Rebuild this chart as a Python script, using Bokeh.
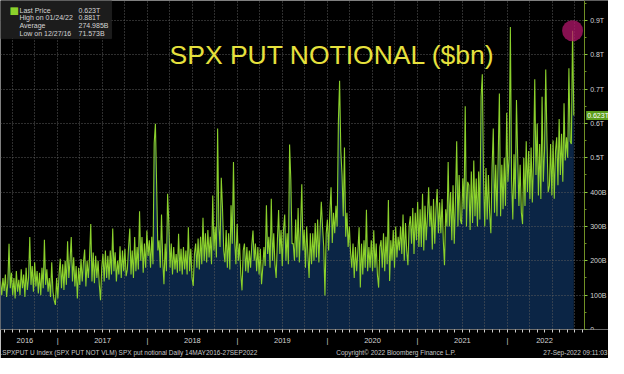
import numpy as np
import pandas as pd
from bokeh.plotting import figure
from bokeh.models import (DatetimeAxis, FixedTicker, CustomJSTickFormatter,
                          Label, BoxAnnotation, Range1d, ColumnDataSource)
from bokeh.embed import file_html
from bokeh.resources import INLINE

# ---------------- data (SPX put notional, $bn) ----------------
start_date = "2016-05-14"
end_date = "2022-09-27"

seg_2016 = [140, 100, 150, 112, 160, 95, 135, 250,
            120, 165, 100, 150, 90, 170, 110, 145,
            100, 175, 120, 160, 95, 180, 115, 150,
            269, 130, 185, 110, 196, 125, 170, 105,
            165, 100, 180, 120, 261, 130, 175, 110,
            150, 95, 196, 110, 85, 71.573, 150, 90]
seg_2017 = [160, 206, 120, 190, 115, 200, 130, 257,
            150, 200, 269, 140, 210, 125, 185, 90,
            180, 130, 205, 140, 195, 233, 125, 200,
            150, 210, 307, 140, 224, 135, 215, 150,
            200, 130, 85, 180, 220, 140, 230, 150,
            215, 145, 230, 160, 294, 170, 225, 140,
            200, 160, 242, 150, 230, 170, 235, 155,
            175, 240, 294, 160, 230, 150, 269, 170,
            240, 175, 344, 200, 269, 165, 250, 180]
seg_2018 = [288, 214, 260, 180, 270, 190, 543, 599,
            420, 230, 260, 180, 335, 200, 132, 250,
            170, 395, 307, 180, 250, 160, 240, 175,
            220, 165, 279, 170, 235, 160, 240, 175,
            230, 160, 298, 170, 235, 150, 127, 220,
            250, 180, 265, 175, 270, 190, 325, 200,
            280, 195, 290, 210, 270, 190, 390, 230,
            300, 210, 585, 300, 240, 442, 353, 230,
            196, 290, 180, 280, 175, 362, 250, 488]
seg_2019 = [260, 190, 307, 200, 250, 160, 114, 230,
            250, 170, 240, 165, 230, 180, 245, 288,
            200, 250, 170, 240, 160, 235, 132, 180,
            240, 185, 362, 220, 270, 180, 381, 200,
            280, 190, 150, 260, 348, 220, 290, 185,
            290, 335, 200, 280, 190, 539, 437, 250,
            250, 200, 320, 210, 354, 195, 300, 423,
            230, 290, 180, 300, 220, 150, 280, 190,
            280, 200, 310, 210, 320, 195, 290, 372,
            300, 240, 99, 280, 320, 230, 340, 414]
seg_2020 = [252, 340, 280, 360, 300, 604, 724, 520,
            450, 330, 530, 270, 340, 240, 300, 224,
            180, 250, 150, 240, 170, 230, 298, 122,
            250, 160, 260, 180, 349, 170, 240, 180,
            260, 170, 289, 180, 250, 160, 122, 240,
            260, 180, 280, 170, 270, 190, 377, 141,
            260, 200, 290, 180, 300, 210, 270, 230,
            300, 220, 335, 200, 310, 230, 187, 300,
            330, 250, 354, 220, 340, 260, 372, 240]
seg_2021 = [350, 240, 395, 230, 360, 260, 330, 414,
            300, 360, 233, 380, 250, 350, 409, 280,
            370, 280, 380, 260, 187, 350, 300, 488,
            300, 400, 260, 420, 250, 380, 548, 300,
            450, 320, 307, 440, 350, 650, 300, 430,
            420, 290, 460, 310, 492, 330, 440, 300,
            460, 320, 678, 743, 437, 300, 470, 320,
            450, 340, 280, 470, 585, 340, 480, 330,
            500, 687, 330, 480, 350, 500, 360, 631]
seg_2022 = [430, 500, 881, 437, 320, 510, 380, 668,
            500, 360, 480, 340, 307, 500, 360, 548,
            400, 520, 380, 530, 370, 492, 729, 450,
            600, 390, 540, 380, 678, 430, 520, 757,
            550, 400, 418, 540, 390, 550, 381, 520,
            560, 420, 613, 450, 570, 430, 659, 492,
            560, 500, 761, 548, 540, 870, 623]

high_date_label = "01/24/22"
low_date_label = "12/27/16"
average_bn = 274.985

y_ticks = [0, 100, 200, 300, 400, 500, 600, 700, 800, 900]
y_tick_labels = ["0", "100B", "200B", "300B", "400B", "0.5T", "0.6T", "0.7T", "0.8T", "0.9T"]
year_label_dates = ["2016-08-21", "2017-07-02", "2018-07-02", "2019-07-02",
                    "2020-07-02", "2021-07-02", "2022-05-31"]
year_starts = ["2017-01-01", "2018-01-01", "2019-01-01", "2020-01-01",
               "2021-01-01", "2022-01-01"]

title_text = "SPX PUT NOTIONAL ($bn)"
footer_texts = [".SPXPUT U Index (SPX PUT NOT VLM) SPX put notional  Daily 14MAY2016-27SEP2022",
                "Copyright\u00a9 2022 Bloomberg Finance L.P.",
                "27-Sep-2022 09:11:03"]

# ---------------- build ----------------
values = np.array(seg_2016 + seg_2017 + seg_2018 + seg_2019 + seg_2020 + seg_2021 + seg_2022,
                  dtype=float)
dates = pd.date_range(start_date, end_date, periods=len(values))
src = ColumnDataSource(dict(date=dates, value=values))


def ms(ts):
    return [pd.Timestamp(t).value / 1e6 for t in ts]


x_start = ms([start_date])[0]
x_axis_pos = ms(["2022-11-08"])[0]          # where the value axis sits (ref px 599)
x_end = x_start + (x_axis_pos - x_start) * 624.0 / 599.0


def at_px(px):  # horizontal layout position, in reference-chart pixels (0..624)
    return x_start + px / 624.0 * (x_end - x_start)


FONT = "Liberation Sans"
GREEN = "#8bd12c"
TXT = "#d4d4d4"

p = figure(width=608, height=358, x_axis_type="datetime", x_axis_location=None,
           y_axis_location="right", x_range=Range1d(x_start, x_end), y_range=Range1d(0, 958),
           output_backend="svg", toolbar_location=None, min_border=0,
           min_border_left=0, min_border_top=0, min_border_right=0, min_border_bottom=29,
           background_fill_color="black", border_fill_color="black", outline_line_color=None)

# grids
p.ygrid.ticker = FixedTicker(ticks=y_ticks[1:])
p.ygrid.grid_line_color = "#5c5c5c"
p.ygrid.grid_line_dash = "1 2"
quarters = pd.date_range("2016-07-01", "2022-10-01", freq="QS")
p.xgrid.ticker = FixedTicker(ticks=ms(quarters))
p.xgrid.grid_line_color = "#5c5c5c"
p.xgrid.grid_line_dash = "1 2"

# blank strip right of the value axis (keeps grid lines from crossing the labels)
p.add_layout(BoxAnnotation(left=x_axis_pos, right=x_end, fill_color="black", fill_alpha=1.0,
                           line_color=None, level="underlay"))

# right value axis, drawn at a fixed x so its labels sit inside the canvas
p.yaxis.fixed_location = x_axis_pos
p.yaxis.ticker = FixedTicker(ticks=y_ticks, minor_ticks=[v + 50 for v in y_ticks])
p.yaxis.major_label_overrides = {t: l for t, l in zip(y_ticks, y_tick_labels)}
p.yaxis.axis_line_color = "#6f8f25"
p.yaxis.major_tick_line_color = "#8cc63f"
p.yaxis.major_tick_out = 3
p.yaxis.major_tick_in = 0
p.yaxis.minor_tick_line_color = "#6f8f25"
p.yaxis.minor_tick_out = 2
p.yaxis.minor_tick_in = 0
p.yaxis.major_label_text_font = FONT
p.yaxis.major_label_text_font_size = "7px"
p.yaxis.major_label_text_color = TXT
p.yaxis.major_label_standoff = 3

# bottom axes: monthly tick strip, year labels with separators, footer line
months = pd.date_range("2016-06-01", "2022-11-01", freq="MS")
axA = DatetimeAxis(ticker=FixedTicker(ticks=ms(months)),
                   formatter=CustomJSTickFormatter(code="return '';"),
                   major_tick_out=3, major_tick_in=0, major_tick_line_color="#cfcfcf",
                   minor_tick_line_color=None, axis_line_color="#6a6a6a",
                   major_label_text_font_size="1px", major_label_standoff=0)
p.add_layout(axA, "below")

yr_ticks = sorted(ms(year_label_dates) + ms(year_starts))
axB = DatetimeAxis(ticker=FixedTicker(ticks=yr_ticks, minor_ticks=[]),
                   formatter=CustomJSTickFormatter(code="""
                       const d = new Date(tick);
                       if (d.getUTCMonth() == 0 && d.getUTCDate() == 1) { return '|'; }
                       return String(d.getUTCFullYear());"""),
                   major_tick_out=0, major_tick_in=0, major_tick_line_color=None,
                   minor_tick_line_color=None, axis_line_color=None,
                   major_label_text_font=FONT, major_label_text_font_size="7.5px",
                   major_label_text_color=TXT, major_label_standoff=3)
p.add_layout(axB, "below")

axC = DatetimeAxis(ticker=FixedTicker(ticks=[at_px(128.5), at_px(406), at_px(590)],
                                      minor_ticks=[]),
                   formatter=CustomJSTickFormatter(args=dict(labels=footer_texts),
                                                   code="return labels[index];"),
                   major_tick_out=0, major_tick_in=0, major_tick_line_color=None,
                   minor_tick_line_color=None, axis_line_color=None,
                   major_label_text_font=FONT, major_label_text_font_size="6.5px",
                   major_label_text_color="#c8c8c8", major_label_standoff=1)
p.add_layout(axC, "below")

# series
area = p.varea(x="date", y1=0, y2="value", source=src, fill_color="#0b2545")
area.level = "image"
p.line(x="date", y="value", source=src, line_color=GREEN, line_width=1.1)

# highlighted late spike
k = len(values) - 5 + int(np.argmax(values[-5:]))
p.scatter(x=[dates[k]], y=[values[k]], size=21, fill_color="#b3166b", fill_alpha=0.75,
          line_color=None)

# last price tag (right of the axis line)
last = values[-1]
p.add_layout(Label(x=x_axis_pos, y=last, x_offset=2, text=f"{last/1000:.3f}T",
                   text_font=FONT, text_font_size="7px", text_color="#ffffff",
                   text_baseline="middle", background_fill_color="#5c9e1c", padding=1))

# title
p.add_layout(Label(x=at_px(340.5), y=800, text=title_text, text_align="center",
                   text_baseline="alphabetic", text_font=FONT, text_font_size="26.5px",
                   text_color="#e6e13d"))

# legend box
p.add_layout(BoxAnnotation(left=x_start, right=at_px(114), bottom=847, top=958,
                           fill_color="#1c1c1c", fill_alpha=1.0, line_color="#3a3a3a"))
rows_y = [930, 908, 885, 862]
hi = values.max()
lo = values.min()
names = ["Last Price", f"High on {high_date_label}", "Average", f"Low on {low_date_label}"]
vals = [f"{last/1000:.3f}T", f"{hi/1000:.3f}T", f"{average_bn:.3f}B", f"{lo:.3f}B"]
for yy, n, v in zip(rows_y, names, vals):
    p.add_layout(Label(x=x_start, y=yy, x_offset=19, text=n, text_font=FONT,
                       text_font_size="7px", text_color=TXT, text_baseline="middle"))
    p.add_layout(Label(x=x_start, y=yy, x_offset=78, text=v, text_font=FONT,
                       text_font_size="7px", text_color=TXT, text_baseline="middle"))
p.add_layout(Label(x=x_start, y=rows_y[0], x_offset=9, text="\u25a0", text_font="DejaVu Sans",
                   text_font_size="10px", text_color=GREEN, text_baseline="middle"))

open("out.html", "w").write(file_html(p, INLINE))
